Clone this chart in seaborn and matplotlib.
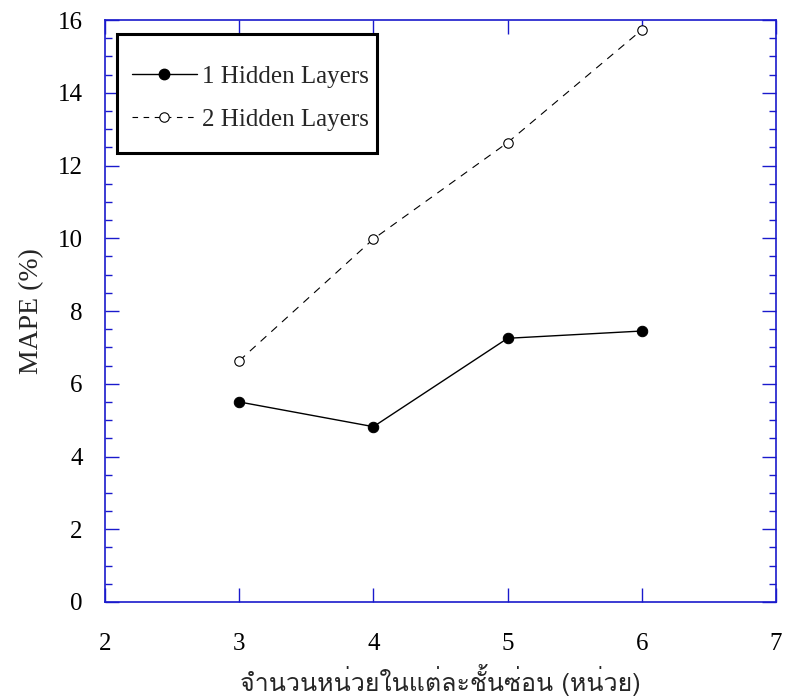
import numpy as np
import pandas as pd
import seaborn as sns
import matplotlib
matplotlib.use('Agg')
import matplotlib.pyplot as plt
from matplotlib import font_manager
from matplotlib.ft2font import FT2Font
from matplotlib.ticker import MultipleLocator
from matplotlib.lines import Line2D
from matplotlib.patches import Rectangle

# data
n_nodes = [3, 4, 5, 6]
mape_1hl = [5.50, 4.82, 7.25, 7.45]
mape_2hl = [6.63, 9.98, 12.63, 15.73]
labels = ['1 Hidden Layers', '2 Hidden Layers']
xlabel = 'จำนวนหน่วยในแต่ละชั้นซ่อน (หน่วย)'
ylabel = 'MAPE (%)'

sns.set_style('ticks')
plt.rcParams['font.family'] = ['Liberation Serif', 'DejaVu Serif']

# find a font that can draw Thai
thai_font = None
for f in font_manager.fontManager.ttflist:
    try:
        if 0x0E08 in FT2Font(f.fname).get_charmap():
            thai_font = f.name
            if 'Serif' in f.name or 'Loopless' not in f.name:
                break
    except Exception:
        pass
thai_family = [thai_font, 'Liberation Serif'] if thai_font else ['Liberation Serif', 'DejaVu Sans']

df = pd.DataFrame({
    'x': n_nodes * 2,
    'y': mape_1hl + mape_2hl,
    'series': [labels[0]] * 4 + [labels[1]] * 4,
})

fig = plt.figure(figsize=(7.86, 7.0), dpi=100)
ax = fig.add_axes([0.1336, 0.14, 0.8537, 0.8314])

sns.lineplot(data=df[df.series == labels[0]], x='x', y='y', ax=ax, color='black',
             lw=1.0, marker='o', markersize=7.5, markerfacecolor='black',
             markeredgecolor='black', legend=False)
sns.lineplot(data=df[df.series == labels[1]], x='x', y='y', ax=ax, color='black',
             lw=0.8, linestyle=(0, (7, 6)), marker='o', markersize=6.8,
             markerfacecolor='white', markeredgecolor='black', markeredgewidth=0.8,
             legend=False)

ax.set_xlim(2, 7)
ax.set_ylim(0, 16)
ax.xaxis.set_major_locator(MultipleLocator(1))
ax.yaxis.set_major_locator(MultipleLocator(2))
ax.yaxis.set_minor_locator(MultipleLocator(0.5))

blue = '#1a1acc'
for s in ax.spines.values():
    s.set_color(blue)
    s.set_linewidth(1.2)
ax.tick_params(axis='both', which='both', direction='in', colors=blue,
               top=True, right=True, labelcolor='black', labelsize=18)
ax.tick_params(axis='both', which='major', length=10, width=1.0)
ax.tick_params(axis='both', which='minor', length=5, width=1.0)
ax.tick_params(axis='x', pad=22)
ax.tick_params(axis='y', pad=16)

ax.set_xlabel(xlabel, fontsize=18, family=thai_family, labelpad=7)
ax.set_ylabel(ylabel, fontsize=20, labelpad=10)

# legend without its own frame, boxed by a plain rectangle
handles = [
    Line2D([], [], color='black', lw=1.0, marker='o', markersize=7.5,
           markerfacecolor='black'),
    Line2D([], [], color='black', lw=0.8, linestyle=(0, (5, 5)), marker='o',
           markersize=6.8, markerfacecolor='white', markeredgewidth=0.8),
]
box = Rectangle((0.018, 0.771), 0.387, 0.205, transform=ax.transAxes,
                fill=True, facecolor='white', edgecolor='black', lw=2.2, zorder=4)
ax.add_patch(box)
leg = ax.legend(handles, labels, loc='center', bbox_to_anchor=(0.2165, 0.866),
                fontsize=18, frameon=False, handlelength=2.6,
                handletextpad=0.2, labelspacing=0.8, borderpad=0)
leg.set_zorder(5)

fig.savefig('out.png', dpi=100)
